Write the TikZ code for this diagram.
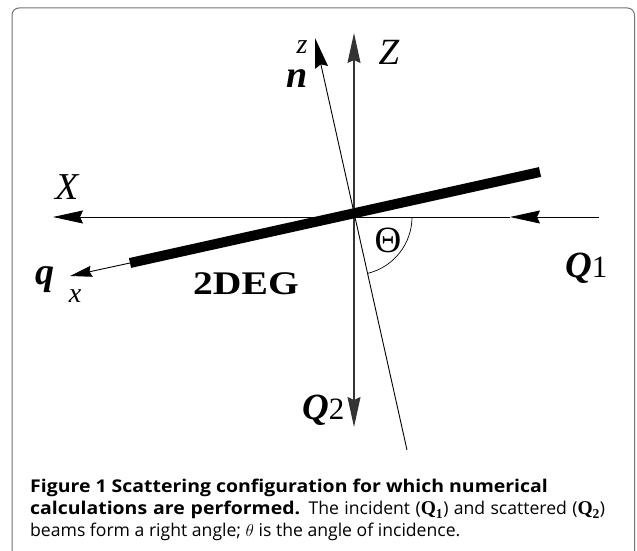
\documentclass[tikz,border=0pt]{standalone}
\usepackage{fontspec}
\setmainfont{Liberation Serif}
\newfontfamily\capfont[BoldFeatures={FakeStretch=1.105}]{Open Sans}
\usetikzlibrary{arrows.meta}
\newcommand{\bigQ}[1]{{\fontsize{19.5}{22}\selectfont$\mathbf{Q_#1}$}}
\tikzset{
  axis/.style={line width=0.9pt},
  bigarrow/.style={-{Stealth[length=30pt,width=13pt,inset=3pt]}},
  lbl/.style={inner sep=0pt},
  caption/.style={inner sep=0pt, anchor=base west, font=\capfont\fontsize{17.6}{22}\selectfont}
}
\begin{document}
\begin{tikzpicture}[x=1pt,y=1pt]
\useasboundingbox (0,0) rectangle (637,551);
\draw[black!55, line width=1pt, rounded corners=7pt] (12,-5) -- (12,543) -- (634.5,543) -- (634.5,-5);
% coordinates
\coordinate (O) at (354,334);
\coordinate (Ztip) at (354,518);
\coordinate (Q2tip) at (354,124);
\coordinate (Xtip) at (53,334);
\coordinate (Q1s) at (599,334);
\coordinate (Q1m) at (510,334);
\coordinate (ntip) at (315,513);
\coordinate (nbot) at (407,101);
\coordinate (barL) at (130,288);
\coordinate (barR) at (540,379);
\coordinate (qtip) at (70,275);
% axes
\draw[axis, line width=1.2pt, black!80, bigarrow] (O) -- (Ztip);
\draw[axis, line width=1.2pt, black!80, bigarrow] (O) -- (Q2tip);
\draw[axis, bigarrow] (Q1m) -- (Xtip);
\draw[axis, bigarrow] (Q1s) -- (Q1m);
\draw[axis, bigarrow] (nbot) -- (ntip);
% 2DEG bar
\draw[line width=10pt] (barL) -- (barR);
\draw[axis, -{Stealth[length=22pt,width=11pt,inset=2pt]}] (barL) -- (qtip);
% angle arc
\draw[line width=0.7pt] ([shift={(0:58)}]O) arc[start angle=0, end angle=-76, radius=58];
% labels
\node[lbl, font=\fontsize{28}{28}\selectfont\itshape] (zl) at (302,504) {z};
\node[lbl, font=\fontsize{38}{38}\selectfont\bfseries\itshape] (nl) at (297,472) {n};
\node[lbl, font=\fontsize{37}{37}\selectfont\itshape] (Zl) at (389,499) {Z};
\node[lbl, font=\fontsize{38}{38}\selectfont\itshape] (Xl) at (67,364) {X};
\node[lbl, anchor=base, font=\fontsize{38}{38}\selectfont\bfseries\itshape] (ql) at (45,266) {q};
\node[lbl, font=\fontsize{28}{28}\selectfont\itshape] (xl) at (75,255) {x};
\node[lbl, anchor=base, xscale=1.2, font=\fontsize{33}{33}\selectfont\bfseries] (deg) at (246,256) {2DEG};
\node[lbl, font=\fontsize{37}{37}\selectfont] (th) at (388,311) {Θ};
\node[lbl, anchor=base west] (Q1l) at (565,273) {\fontsize{37}{37}\selectfont\bfseries\itshape Q\fontsize{31}{31}\selectfont\mdseries\upshape 1};
\node[lbl, anchor=base west] (Q2l) at (302,131) {\fontsize{37}{37}\selectfont\bfseries\itshape Q\fontsize{31}{31}\selectfont\mdseries\upshape 2};
% caption
\node[caption] (c1) at (30,58) {\bfseries Figure 1 Scattering configuration for which numerical};
\node[caption] (c2) at (30,36) {\makebox[575pt][s]{\textbf{calculations are performed.} The incident (\bigQ{1}) and scattered (\bigQ{2})}};
\node[caption] (c3) at (30,14) {beams form a right angle; $\theta$ is the angle of incidence.};
\end{tikzpicture}
\end{document}
